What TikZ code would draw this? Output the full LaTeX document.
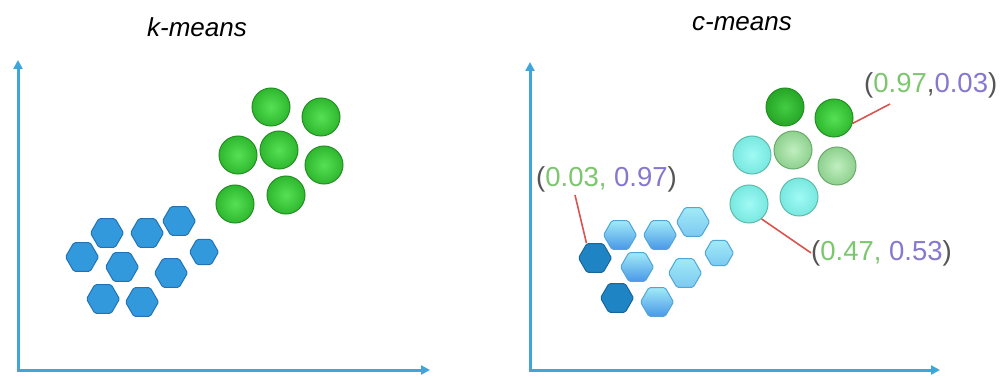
\documentclass[tikz,border=0pt]{standalone}
\usepackage{fontspec}
\setmainfont{Liberation Sans}
\usetikzlibrary{shapes.geometric,arrows.meta}
\definecolor{axisblue}{HTML}{3EA6DA}
\definecolor{gmain}{HTML}{2FB82F}
\definecolor{glight}{HTML}{55E055}
\definecolor{gedge}{HTML}{238F23}
\definecolor{hexblue}{HTML}{3399DD}
\definecolor{hexedge}{HTML}{2273B5}
\definecolor{hexdark}{HTML}{1F84C4}
\definecolor{hexdarkedge}{HTML}{17679A}
\definecolor{hexltop}{HTML}{A0EAF7}
\definecolor{hexlbot}{HTML}{4A98E8}
\definecolor{hexledge}{HTML}{52A6D6}
\definecolor{cyanin}{HTML}{A0FAF4}
\definecolor{cyanout}{HTML}{78E8E0}
\definecolor{cyanedge}{HTML}{5EBBAA}
\definecolor{palein}{HTML}{C0EEC0}
\definecolor{paleout}{HTML}{8ED08E}
\definecolor{paleedge}{HTML}{6AAA6A}
\definecolor{dgin}{HTML}{44CC44}
\definecolor{dgout}{HTML}{26A626}
\definecolor{numgreen}{HTML}{7CC76E}
\definecolor{numpurple}{HTML}{8777CF}
\definecolor{paren}{HTML}{555555}
\definecolor{redline}{HTML}{D9534F}
\begin{document}
\begin{tikzpicture}[x=1pt,y=-1pt,
  axisline/.style={draw=axisblue,line width=3pt,{Triangle[length=9pt,width=9pt]}-{Triangle[length=9pt,width=9pt]}},
  ttl/.style={font=\fontsize{26}{30}\selectfont\itshape,inner sep=0pt,anchor=base},
  lab/.style={font=\fontsize{27.5}{32}\selectfont,inner sep=0pt,anchor=base west,text=paren},
  ball/.style={circle,minimum size=38pt,inner sep=0pt,line width=1pt},
  kball/.style={ball,draw=gedge,inner color=glight,outer color=gmain},
  dgball/.style={ball,draw=gedge,inner color=dgin,outer color=dgout},
  cyball/.style={ball,draw=cyanedge,inner color=cyanin,outer color=cyanout},
  pgball/.style={ball,draw=paleedge,inner color=palein,outer color=paleout},
  hex/.style={regular polygon,regular polygon sides=6,minimum size=33pt,inner sep=0pt,line width=1pt,rounded corners=1.5pt},
  khex/.style={hex,draw=hexedge,fill=hexblue},
  dhex/.style={hex,draw=hexdarkedge,fill=hexdark},
  lhex/.style={hex,draw=hexledge,top color=hexltop,bottom color=hexlbot},
  chex/.style={hex,draw=hexledge,top color=hexltop,bottom color=hexltop!60!hexlbot},
  redl/.style={draw=redline,line width=1.6pt}]
\useasboundingbox (0,0) rectangle (1005,377);

% ---------- left panel ----------
\node[ttl] (tk) at (197,37) {k-means};
\coordinate (Lo) at (18,370);
\coordinate (Ly) at (18,60);
\coordinate (Lx) at (430,370);
\draw[axisline] (Ly) -- (Lo) -- (Lx);

\node[kball] (k1) at (271,107) {};
\node[kball] (k2) at (321,117) {};
\node[kball] (k3) at (238,155) {};
\node[kball] (k4) at (279,150) {};
\node[kball] (k5) at (324,165) {};
\node[kball] (k6) at (235,204) {};
\node[kball] (k7) at (286,195) {};

\node[khex] (a1) at (179,221) {};
\node[khex] (a2) at (107,233) {};
\node[khex] (a3) at (147,233) {};
\node[khex] (a4) at (82,257) {};
\node[khex] (a5) at (122,267) {};
\node[khex,minimum size=29pt] (a6) at (204,252) {};
\node[khex] (a7) at (171,273) {};
\node[khex] (a8) at (103,299) {};
\node[khex] (a9) at (142,302) {};

% ---------- right panel ----------
\node[ttl] (tc) at (742,31) {c-means};
\coordinate (Ro) at (530,370);
\coordinate (Ry) at (530,62);
\coordinate (Rx) at (940,370);
\draw[axisline] (Ry) -- (Ro) -- (Rx);

\node[dgball] (c1) at (785,107) {};
\node[kball] (c2) at (834,118) {};
\node[cyball] (c3) at (752,155) {};
\node[pgball] (c4) at (793,150) {};
\node[pgball] (c5) at (837,166) {};
\node[cyball] (c6) at (749,204) {};
\node[cyball] (c7) at (799,197) {};

\node[chex] (b1) at (693,222) {};
\node[lhex] (b2) at (620,235) {};
\node[lhex] (b3) at (660,235) {};
\node[dhex] (b4) at (595,258) {};
\node[lhex] (b5) at (637,267) {};
\node[chex,minimum size=29pt] (b6) at (719,253) {};
\node[chex] (b7) at (685,273) {};
\node[dhex] (b8) at (617,298) {};
\node[lhex] (b9) at (657,302) {};

\node[lab] (m1) at (864,93) {(\textcolor{numgreen}{0.97},\textcolor{numpurple}{0.03})};
\node[lab] (m2) at (536,187) {(\textcolor{numgreen}{0.03,} \textcolor{numpurple}{0.97})};
\node[lab] (m3) at (811,260) {(\textcolor{numgreen}{0.47,} \textcolor{numpurple}{0.53})};

\coordinate (e1) at (890,104);
\coordinate (e2) at (575,195);
\draw[redl] (c2.-16) -- (e1);
\draw[redl] (e2) -- (b4.120);
\draw[redl] (c6.-50) -- (m3.west);
\end{tikzpicture}
\end{document}
